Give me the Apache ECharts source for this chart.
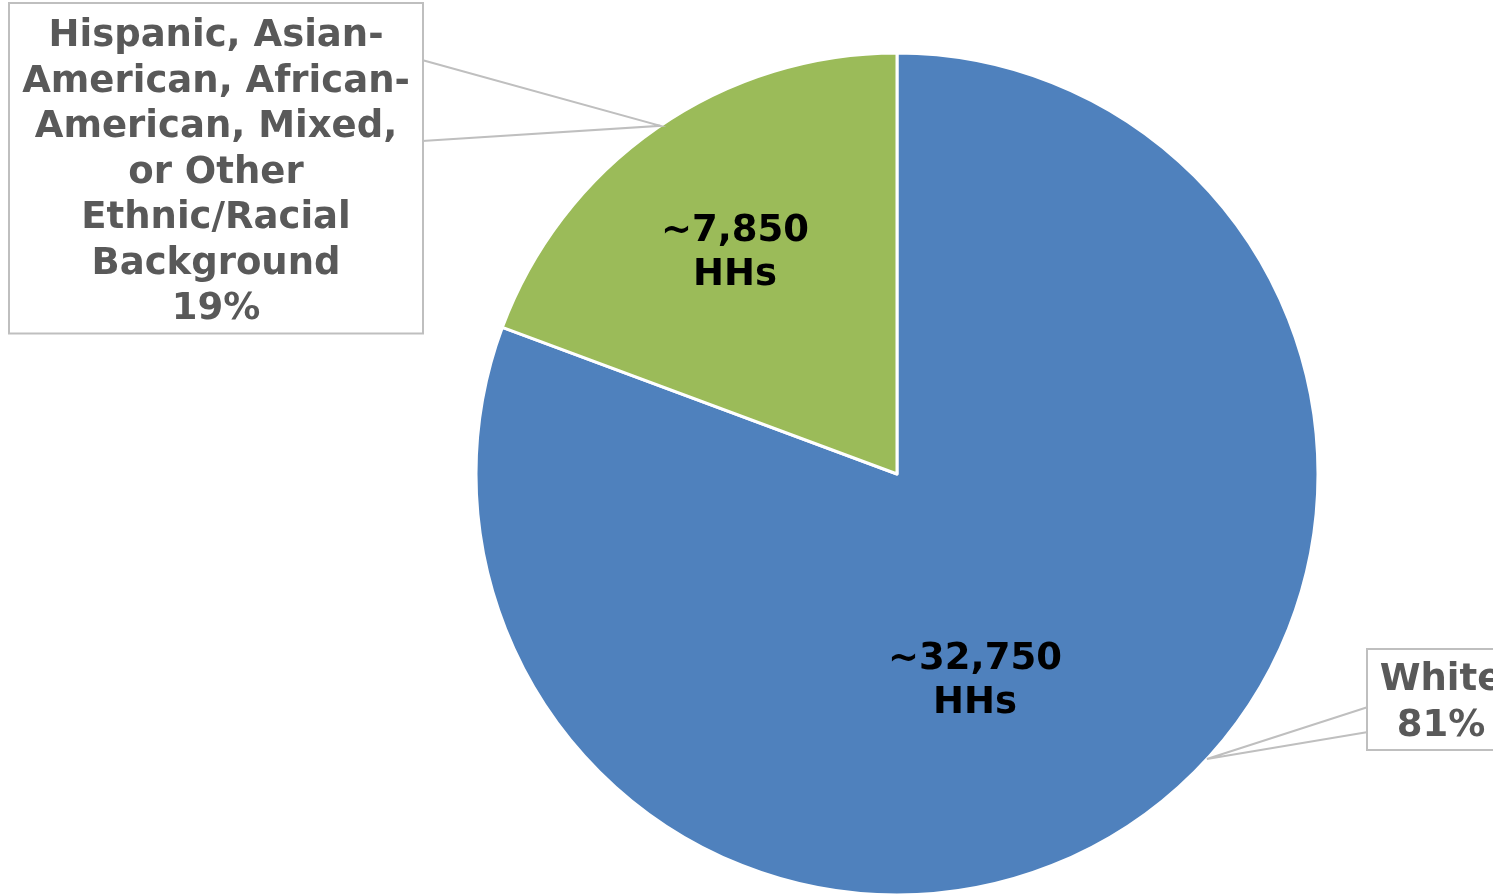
<!DOCTYPE html>
<html>
<head>
<meta charset="utf-8">
<script src="https://cdn.jsdelivr.net/npm/echarts@6/dist/echarts.min.js"></script>
<style>
  html, body { margin: 0; padding: 0; background: #fff; }
  #chart { width: 1493px; height: 894px; }
</style>
</head>
<body>
<div id="chart"></div>
<script>
// --- data ---
const categories = ['White', 'Hispanic, Asian-\nAmerican, African-\nAmerican, Mixed,\nor Other\nEthnic/Racial\nBackground'];
const households = [32750, 7850];
const shares = ['81%', '19%'];
const countLabels = ['~32,750\nHHs', '~7,850\nHHs'];
const colors = ['#4f81bd', '#9bbb59'];

// --- layout (pixels) ---
const CX = 897, CY = 474, R = 421;
const FONT = '"DejaVu Sans", Verdana, sans-serif';
// inner label centres
const innerPos = [[975, 681], [735, 253]];
// callout boxes: centre x, top y of outer box, content width, padding
const boxPos = [
    { cx: 1441, y: 650, w: 126, pad: [8, 10, 0, 10] },
    { cx: 216, y: 4, w: 392, pad: [10, 10, 0, 10] }
];
// callout wedge: angle (deg) of tip on the circle, base y's on box edge
const wedges = [
    { ang: -42.6, edgeX: 1368, y1: 707, y2: 732 },
    { ang: 124.2, edgeX: 422, y1: 60, y2: 141 }
];

const chart = echarts.init(document.getElementById('chart'));

const wedgeGraphics = wedges.map(w => {
    const tx = CX + R * Math.cos(w.ang * Math.PI / 180);
    const ty = CY - R * Math.sin(w.ang * Math.PI / 180);
    return {
        type: 'polyline',
        z: 10,
        shape: { points: [[w.edgeX, w.y1], [tx, ty], [w.edgeX, w.y2]] },
        style: { stroke: '#bfbfbf', lineWidth: 2, fill: null }
    };
});

chart.setOption({
    animation: false,
    backgroundColor: '#fff',
    graphic: wedgeGraphics,
    series: [
        {
            // slices + inside count labels
            type: 'pie',
            center: [CX, CY],
            radius: [0, R],
            startAngle: 90,
            clockwise: true,
            silent: true,
            data: categories.map((c, i) => ({
                name: c,
                value: households[i],
                itemStyle: { color: colors[i] }
            })),
            itemStyle: { borderColor: '#fff', borderWidth: 3 },
            label: {
                show: true,
                position: 'inside',
                formatter: p => countLabels[p.dataIndex],
                color: '#000',
                fontFamily: FONT,
                fontWeight: 'bold',
                fontSize: 37,
                lineHeight: 44,
                align: 'center'
            },
            labelLine: { show: false },
            labelLayout: p => ({
                x: innerPos[p.dataIndex][0],
                y: innerPos[p.dataIndex][1],
                align: 'center',
                verticalAlign: 'middle'
            })
        },
        {
            // transparent overlay carrying the callout labels
            type: 'pie',
            center: [CX, CY],
            radius: [0, R],
            startAngle: 90,
            clockwise: true,
            silent: true,
            z: 20,
            data: categories.map((c, i) => ({
                name: c,
                value: households[i],
                label: { width: boxPos[i].w, padding: boxPos[i].pad }
            })),
            itemStyle: { color: 'rgba(0,0,0,0)', borderWidth: 0 },
            label: {
                show: true,
                position: 'outside',
                formatter: p => p.name + '\n' + shares[p.dataIndex],
                color: '#595959',
                fontFamily: FONT,
                fontWeight: 'bold',
                fontSize: 37,
                lineHeight: 45.5,
                align: 'center',
                backgroundColor: '#fff',
                borderColor: '#bfbfbf',
                borderWidth: 2
            },
            labelLine: { show: false },
            labelLayout: p => {
                const b = boxPos[p.dataIndex];
                return { x: b.cx, y: b.y, align: 'center', verticalAlign: 'top' };
            }
        }
    ]
});
</script>
</body>
</html>
